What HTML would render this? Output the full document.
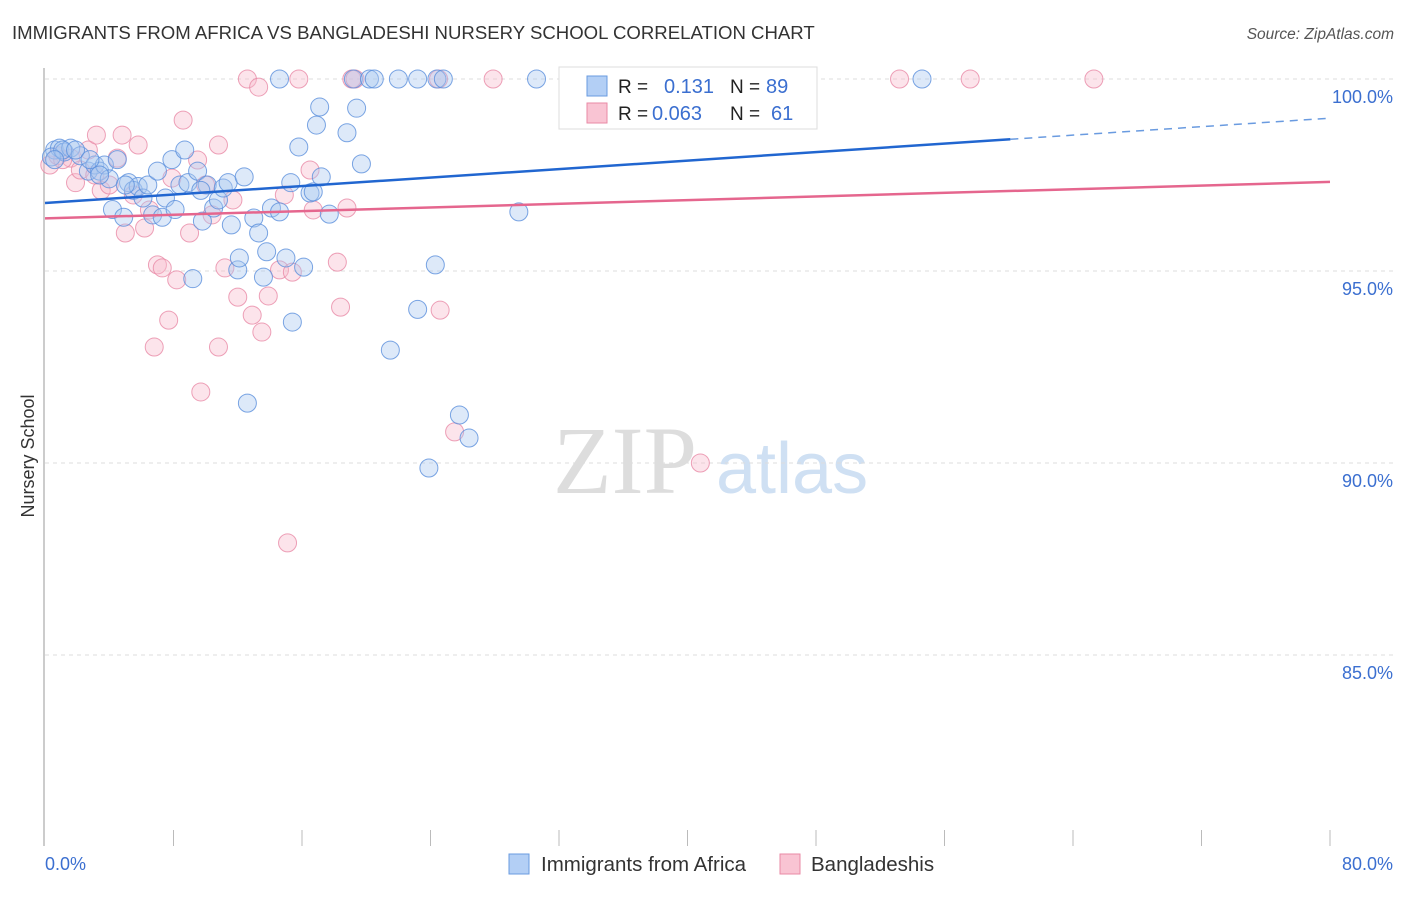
<!DOCTYPE html>
<html><head><meta charset="utf-8"><style>
body{margin:0;background:#fff;font-family:"Liberation Sans",sans-serif;}
svg text{font-family:"Liberation Sans",sans-serif;}
</style></head><body>
<svg id="c" width="1406" height="892" xmlns="http://www.w3.org/2000/svg">
<text x="12" y="39" font-size="18.6" fill="#333">IMMIGRANTS FROM AFRICA VS BANGLADESHI NURSERY SCHOOL CORRELATION CHART</text>
<text x="1394" y="39" font-size="15.5" fill="#555" text-anchor="end" font-style="italic">Source: ZipAtlas.com</text>
<text x="34" y="456" font-size="18" fill="#333" text-anchor="middle" transform="rotate(-90 34 456)">Nursery School</text>
<g><text x="553" y="493" font-size="96" fill="#ddd" font-family="Liberation Serif" style="font-family:'Liberation Serif',serif">ZIP</text><text x="716" y="493" font-size="72" fill="#cfe0f3">atlas</text></g>
<g id="grid"></g><g id="axes"></g><g id="pts"></g><g id="trend"></g>
<g>
<rect x="559" y="67" width="258" height="62" fill="#fff" stroke="#ddd"/>
<rect x="587" y="76" width="20" height="20" fill="#b3cff5" stroke="#6a9be0"/>
<rect x="587" y="103" width="20" height="20" fill="#f9c4d3" stroke="#e98aa6"/>
<text x="618" y="93" font-size="19" fill="#222">R = </text><text x="664" y="93" font-size="20" fill="#3b6fd0">0.131</text>
<text x="730" y="93" font-size="19" fill="#222">N = </text><text x="766" y="93" font-size="20" fill="#3b6fd0">89</text>
<text x="618" y="120" font-size="19" fill="#222">R = </text><text x="652" y="120" font-size="20" fill="#3b6fd0">0.063</text>
<text x="730" y="120" font-size="19" fill="#222">N = </text><text x="771" y="120" font-size="20" fill="#3b6fd0">61</text>
</g>
<g>
<rect x="509" y="854" width="20" height="20" fill="#b3cff5" stroke="#6a9be0"/>
<text x="541" y="871" font-size="20.5" fill="#333">Immigrants from Africa</text>
<rect x="780" y="854" width="20" height="20" fill="#f9c4d3" stroke="#e98aa6"/>
<text x="811" y="871" font-size="20.5" fill="#333">Bangladeshis</text>
</g>
</svg>
<script>
const blueX=[0.6,0.9,1.2,0.4,1.6,2.2,2.7,3.1,3.4,3.7,4.0,4.5,4.2,4.9,5.2,5.5,5.8,6.1,6.4,6.7,7.0,7.3,7.5,7.9,8.1,8.4,8.7,8.9,9.2,9.5,9.8,10.1,10.5,10.8,11.1,11.4,11.6,12.0,12.1,12.4,12.6,13.0,13.3,13.6,13.8,14.1,14.6,14.6,15.0,15.3,15.4,15.8,16.1,16.5,16.7,16.9,17.1,17.2,17.7,18.8,19.2,19.4,19.7,20.2,20.5,21.5,22.0,23.2,23.2,23.9,24.3,24.4,24.8,25.8,26.4,29.5,30.6,32.7,33.2,35.9,54.6,1.1,1.9,0.6,2.8,5.0,3.4,9.7];
const blueY=[98.15,98.2,98.1,97.97,98.2,98.0,97.6,97.76,97.6,97.76,97.4,97.9,96.6,96.4,97.3,97.1,97.2,96.9,97.24,96.46,97.6,96.4,96.9,97.9,96.6,97.24,98.15,97.3,94.8,97.6,96.3,97.24,96.64,96.85,97.16,97.3,96.2,95.03,95.34,97.45,91.56,96.38,95.99,94.84,95.5,96.64,96.54,100,95.34,97.3,93.67,98.23,95.1,97.03,97.06,98.8,99.27,97.45,96.48,98.6,100,99.24,97.79,100,100,92.94,100,100,94.0,89.87,95.16,100,100,91.25,90.65,96.54,100,100,100,100,100,98.15,98.15,97.9,97.9,97.24,97.5,97.1];
const pinkX=[0.3,0.8,1.6,1.9,2.2,2.7,3.2,3.5,4.0,4.5,4.8,5.0,5.5,5.8,6.2,6.5,6.8,7.0,7.3,7.7,7.9,8.2,8.6,9.0,9.5,9.7,10.0,10.4,10.8,10.8,11.2,11.7,12.0,12.6,12.9,13.3,13.5,13.9,14.6,14.9,15.1,15.4,15.8,16.5,16.7,18.2,18.4,18.8,19.1,19.3,24.5,24.6,25.5,27.9,40.8,53.2,57.6,65.3,1.1,3.1];
const pinkY=[97.76,98.0,97.94,97.3,97.63,98.15,98.54,97.1,97.24,97.94,98.54,95.99,96.98,98.28,96.12,96.59,93.02,95.16,95.08,93.72,97.42,94.77,98.93,95.99,97.89,91.85,97.24,96.46,93.02,98.28,95.08,96.85,94.32,100,93.85,99.79,93.41,94.35,95.03,96.98,87.92,94.97,100,97.63,96.59,95.23,94.06,96.64,100,100,100,93.98,90.81,100,90.0,100,100,100,97.9,97.5];
const yTicks=[100,95,90,85];
const yTickLabels=["100.0%","95.0%","90.0%","85.0%"];
const blueTrend=[96.77,98.98];
const pinkTrend=[96.37,97.32];
const NS="http://www.w3.org/2000/svg";
const sx=v=>45+v/80*1285;
const sy=v=>79+(100-v)*38.4;
function mk(t,a,p){const e=document.createElementNS(NS,t);for(const k in a)e.setAttribute(k,a[k]);p.appendChild(e);return e;}
const grid=document.getElementById('grid'),axes=document.getElementById('axes'),pts=document.getElementById('pts'),tr=document.getElementById('trend');
yTicks.forEach((v,i)=>{
  const l=mk('line',{x1:45,x2:1393,y1:sy(v),y2:sy(v),stroke:'#ddd','stroke-dasharray':'4,4'},grid);
  
  
  const t=mk('text',{x:1393,y:sy(v)+24,'font-size':18,fill:'#3b6fd0','text-anchor':'end'},grid);
  t.textContent=yTickLabels[i];
  
  
});
const ya=mk('line',{x1:44,x2:44,y1:68,y2:846,stroke:'#bbb','stroke-width':1.5},axes);


for(let i=1;i<=10;i++){
  const tk=mk('line',{x1:sx(i*8),x2:sx(i*8),y1:830,y2:846,stroke:'#bbb'},axes);
  
  
}
const x0=mk('text',{x:45,y:870,'font-size':18,fill:'#3b6fd0'},axes);x0.textContent='0.0%';


const x1=mk('text',{x:1393,y:870,'font-size':18,fill:'#3b6fd0','text-anchor':'end'},axes);x1.textContent='80.0%';


function dots(X,Y,fill,stroke,name){
  X.forEach((x,i)=>{
    const c=mk('circle',{cx:sx(x),cy:sy(Y[i]),r:9,fill:fill,'fill-opacity':0.4,stroke:stroke,'stroke-opacity':0.8,'stroke-width':1},pts);
    
    
  });
}
dots(pinkX,pinkY,'#f7bccd','#e88aa6','bangladeshi-point');
dots(blueX,blueY,'#a9c8f0','#5a8fdc','africa-point');
const bAt=x=>blueTrend[0]+(blueTrend[1]-blueTrend[0])*x/80;
const b1=mk('line',{x1:sx(0),y1:sy(bAt(0)),x2:sx(60.1),y2:sy(bAt(60.1)),stroke:'#2166d0','stroke-width':2.5},tr);


const b2=mk('line',{x1:sx(60.1),y1:sy(bAt(60.1)),x2:sx(80),y2:sy(bAt(80)),stroke:'#6a9be0','stroke-width':1.5,'stroke-dasharray':'8,6'},tr);


const p1=mk('line',{x1:sx(0),y1:sy(pinkTrend[0]),x2:sx(80),y2:sy(pinkTrend[1]),stroke:'#e5668e','stroke-width':2.5},tr);


</script>
</body></html>
